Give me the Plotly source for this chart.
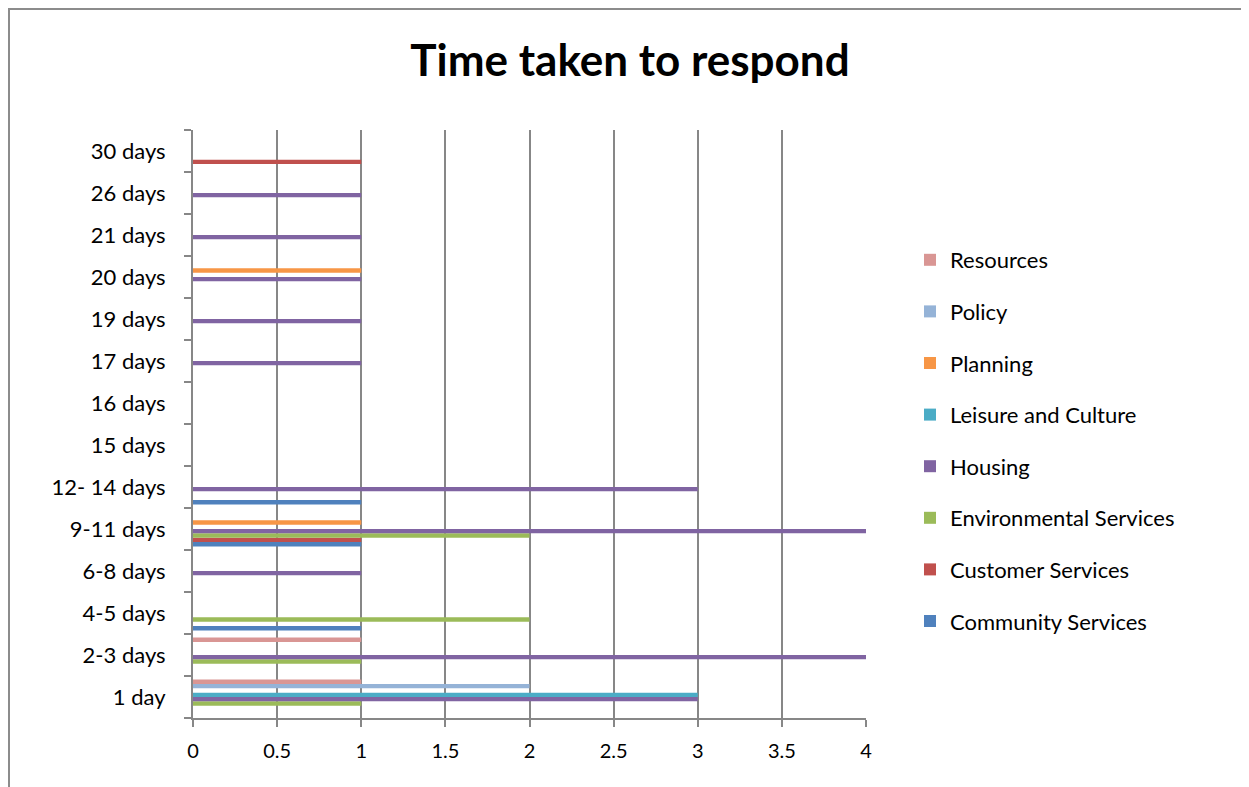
import plotly.graph_objects as go

categories = ["1 day", "2-3 days", "4-5 days", "6-8 days", "9-11 days", "12- 14 days",
              "15 days", "16 days", "17 days", "19 days", "20 days", "21 days", "26 days", "30 days"]

community_services = [None, None, 1, None, 1, 1, None, None, None, None, None, None, None, None]
customer_services = [None, None, None, None, 1, None, None, None, None, None, None, None, None, 1]
environmental_services = [1, 1, 2, None, 2, None, None, None, None, None, None, None, None, None]
housing = [3, 4, None, 1, 4, 3, None, None, 1, 1, 1, 1, 1, None]
leisure_and_culture = [3, None, None, None, None, None, None, None, None, None, None, None, None, None]
planning = [None, None, None, None, 1, None, None, None, None, None, 1, None, None, None]
policy = [2, None, None, None, None, None, None, None, None, None, None, None, None, None]
resources = [1, 1, None, None, None, None, None, None, None, None, None, None, None, None]

series = [
    ("Community Services", community_services, "#4F81BD"),
    ("Customer Services", customer_services, "#C0504D"),
    ("Environmental Services", environmental_services, "#9BBB59"),
    ("Housing", housing, "#8064A2"),
    ("Leisure and Culture", leisure_and_culture, "#4BACC6"),
    ("Planning", planning, "#F79646"),
    ("Policy", policy, "#95B3D7"),
    ("Resources", resources, "#D99694"),
]

x_ticks = [0, 0.5, 1, 1.5, 2, 2.5, 3, 3.5, 4]
x_tick_text = ["0", "0.5", "1", "1.5", "2", "2.5", "3", "3.5", "4"]

FONT = "Lato, Open Sans, sans-serif"

fig = go.Figure()
n = len(series)
for i, (name, vals, color) in enumerate(series):
    fig.add_trace(go.Bar(
        y=categories, x=vals, name=name, orientation="h",
        marker=dict(color=color, line=dict(width=0)),
        legendgroup=name, legendrank=1000 + (n - i),
    ))

# page body has an 8px margin; work in screen pixels and shift
OFF = 8
W, H = 1249 - OFF, 787 - OFF
L, T = 193 - OFF, 130 - OFF
pw, ph = 673, 588
R = W - L - pw
B = H - T - ph

def px_x(v):
    return (v - OFF - L) / pw

def px_y(v):
    return (H - B - (v - OFF)) / ph

fig.update_layout(
    width=W, height=H,
    margin=dict(l=L, r=R, t=T, b=B, autoexpand=False),
    paper_bgcolor="white", plot_bgcolor="white",
    barmode="group", bargap=0.17, bargroupgap=0,
    font=dict(family=FONT, color="black"),
    title=dict(text="<b>Time taken to respond</b>", x=(630 - OFF) / W, xanchor="center",
               y=1 - (61 - OFF) / H, yanchor="middle",
               font=dict(size=44, family=FONT, color="black")),
    legend=dict(x=px_x(910), y=px_y(239), xanchor="left", yanchor="top",
                traceorder="grouped", tracegroupgap=20,
                font=dict(size=22, family=FONT, color="black"),
                itemwidth=30, bgcolor="rgba(0,0,0,0)"),
    xaxis=dict(range=[0, 4], tickvals=x_ticks, ticktext=x_tick_text,
               showgrid=True, gridcolor="#878787", gridwidth=2,
               showline=True, linecolor="#878787", linewidth=2,
               ticks="outside", ticklen=7, tickcolor="#878787", tickwidth=2,
               tickfont=dict(size=20, family=FONT, color="black"),
               ticklabelstandoff=7, zeroline=False, fixedrange=True),
    yaxis=dict(type="category", categoryorder="array", categoryarray=categories,
               range=[-0.5, len(categories) - 0.5],
               showgrid=False, showline=True, linecolor="#878787", linewidth=2,
               ticks="outside", tickson="boundaries", ticklen=7,
               tickcolor="#878787", tickwidth=2,
               tickfont=dict(size=22, family=FONT, color="black"),
               ticklabelstandoff=21, fixedrange=True),
    shapes=[dict(type="rect", xref="paper", yref="paper",
                 x0=px_x(OFF + 1), x1=px_x(1247), y0=px_y(800), y1=px_y(OFF + 1),
                 line=dict(color="#8C8C8C", width=2), fillcolor="rgba(0,0,0,0)",
                 layer="below")],
)

fig.write_html("out.html")
